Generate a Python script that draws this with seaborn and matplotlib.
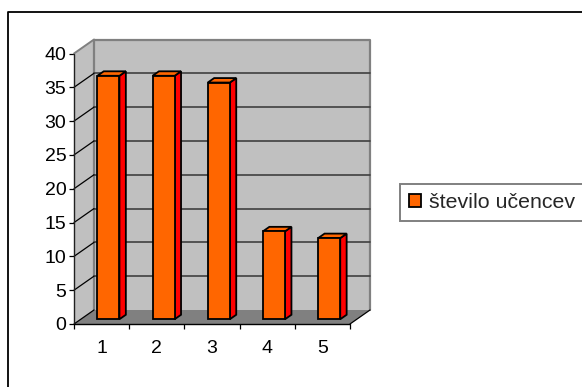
#!/usr/bin/env python
# -*- coding: utf-8 -*-

import matplotlib
matplotlib.use("Agg")
import matplotlib.pyplot as plt
import pandas as pd
import seaborn as sns
from matplotlib.lines import Line2D
from matplotlib.patches import Polygon
from matplotlib.transforms import Affine2D, IdentityTransform

## Chart data
categories = ["1", "2", "3", "4", "5"]
values = [36, 36, 35, 13, 12]
series_name = "število učencev"
y_ticks = [0, 5, 10, 15, 20, 25, 30, 35, 40]

W, H = 582, 387
DX, DY = 20, 14  # depth of the fake 3d box, pixels
NEAR, FAR = 0.34, 0.66  # where the bars sit inside that depth

ORANGE = "#ff6600"
RED = "#ff0000"
WALL = "#c0c0c0"
GREY = "#808080"

sns.set_style("white")
plt.rcParams["font.family"] = ["Liberation Sans", "DejaVu Sans"]


def shifted(ax, depth):
    return ax.transData + Affine2D().translate(depth * DX, depth * DY)


def to_pixels(ax, x, y, depth):
    px, py = ax.transData.transform((x, y))
    return (px + depth * DX, py + depth * DY)


def box_poly(ax, corners, **kw):
    # corners are (x, y, depth), turned into pixels so the depth is the same everywhere
    pts = [to_pixels(ax, *c) for c in corners]
    poly = Polygon(pts, closed=True, transform=IdentityTransform(), clip_on=False, **kw)
    ax.add_patch(poly)
    return poly


fig = plt.figure(figsize=(W / 100, H / 100), dpi=100, facecolor="white")
ax = fig.add_axes([74 / W, (H - 324) / H, 276 / W, 270.5 / H])
ax.patch.set_visible(False)

df = pd.DataFrame({"cat": categories, "val": values})
sns.barplot(data=df, x="cat", y="val", color=ORANGE, saturation=1, width=0.4,
            edgecolor="black", linewidth=1.3, label=series_name, zorder=6, ax=ax)

ax.set_xlim(-0.5, len(categories) - 0.5)
ax.set_ylim(0, y_ticks[-1])
ax.set_xlabel("")
ax.set_ylabel("")

x0, x1 = ax.get_xlim()
y0, y1 = ax.get_ylim()

## Walls and floor
box_poly(ax, [(x0, y0, 0), (x0, y1, 0), (x0, y1, 1), (x0, y0, 1)],
         facecolor=WALL, edgecolor="none", zorder=1)
box_poly(ax, [(x0, y0, 1), (x0, y1, 1), (x1, y1, 1), (x1, y0, 1)],
         facecolor=WALL, edgecolor="none", zorder=1)
box_poly(ax, [(x0, y0, 0), (x1, y0, 0), (x1, y0, 1), (x0, y0, 1)],
         facecolor=GREY, edgecolor="none", zorder=2)

## Grey outline of the walls
ax.plot([x0, x0, x1, x1], [y0, y1, y1, y0], color=GREY, lw=1.6, zorder=3,
        transform=shifted(ax, 1), clip_on=False)
outline = [to_pixels(ax, x0, y1, 0), to_pixels(ax, x0, y1, 1)]
ax.add_line(Line2D([p[0] for p in outline], [p[1] for p in outline], color=GREY, lw=1.4,
                   transform=IdentityTransform(), clip_on=False, zorder=3))

## Gridlines run along the back wall and down the side wall
for t in y_ticks[1:-1]:
    ax.plot([x0, x1], [t, t], color="#404040", lw=1.2, zorder=4,
            transform=shifted(ax, 1), clip_on=False)
for t in y_ticks[:-1]:
    a, b = to_pixels(ax, x0, t, 0), to_pixels(ax, x0, t, 1)
    ax.add_line(Line2D([a[0], b[0]], [a[1], b[1]], color="black", lw=0.9,
                       transform=IdentityTransform(), clip_on=False, zorder=4))
a, b = to_pixels(ax, x1, y0, 0), to_pixels(ax, x1, y0, 1)
ax.add_line(Line2D([a[0], b[0]], [a[1], b[1]], color="black", lw=0.9,
                   transform=IdentityTransform(), clip_on=False, zorder=4))
ax.plot([x0, x0], [y0, y1], color="#202020", lw=1.0, clip_on=False, zorder=5)
ax.plot([x0, x1], [y0, y0], color="black", lw=1.0, clip_on=False, zorder=5)

## Front faces come from seaborn, move them in and add side and top
for bar in ax.containers[0]:
    left, right = bar.get_x(), bar.get_x() + bar.get_width()
    top = bar.get_height()
    bar.set_transform(shifted(ax, NEAR))
    bar.set_clip_on(False)
    box_poly(ax, [(right, 0, NEAR), (right, top, NEAR), (right, top, FAR), (right, 0, FAR)],
             facecolor=RED, edgecolor="black", linewidth=1.3, zorder=5)
    box_poly(ax, [(left, top, NEAR), (right, top, NEAR), (right, top, FAR), (left, top, FAR)],
             facecolor=ORANGE, edgecolor="black", linewidth=1.3, zorder=5)

## Axes ticks: x ticks sit between the categories
sns.despine(ax=ax, left=True, bottom=True, top=True, right=True)
ax.set_xticks([i - 0.5 for i in range(len(categories) + 1)])
ax.set_xticklabels([])
ax.set_xticks(range(len(categories)), labels=categories, minor=True)
ax.set_yticks(y_ticks)
ax.tick_params(axis="x", which="major", bottom=True, length=3.5, width=0.9, color="black")
ax.tick_params(axis="x", which="minor", bottom=False, labelsize=14, pad=9.5, labelcolor="black")
ax.tick_params(axis="y", left=True, length=3.5, width=0.9, color="black", labelsize=14,
               pad=2, labelcolor="black")

## Legend runs off the right hand side of the picture
leg = ax.legend(loc="upper left", bbox_to_anchor=(399.5 / W, (H - 184) / H),
                bbox_transform=fig.transFigure, borderaxespad=0, fontsize=15.4,
                frameon=True, fancybox=False, edgecolor=GREY, framealpha=1,
                handlelength=0.58, handleheight=0.58, handletextpad=0.38, borderpad=0.43)
leg.get_frame().set_linewidth(1.4)

## Frame of the chart area: only top and left reach into the picture
fig.add_artist(Line2D([7.5 / W, 7.5 / W, 1], [0, (H - 12) / H, (H - 12) / H],
                      color="black", lw=1.3, transform=fig.transFigure))

fig.savefig("out.png", dpi=100)
